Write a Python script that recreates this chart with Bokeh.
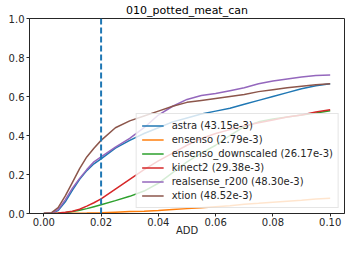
from bokeh.plotting import figure
from bokeh.models import (Span, Legend, LegendItem, FixedTicker, Range1d, Label,
                          ColumnDataSource)
from bokeh.embed import file_html
from bokeh.resources import INLINE

title = "010_potted_meat_can"
x_label = "ADD"
y_label = "ratio"
threshold = 0.02

add = [0, 0.0025, 0.005, 0.0075, 0.01, 0.0125, 0.015, 0.0175, 0.02, 0.025, 0.03,
       0.035, 0.04, 0.045, 0.05, 0.055, 0.06, 0.065, 0.07, 0.075, 0.08, 0.085,
       0.09, 0.095, 0.1]

astra = [0, 0.001, 0.015, 0.06, 0.12, 0.175, 0.22, 0.255, 0.28, 0.335, 0.375,
         0.41, 0.44, 0.47, 0.49, 0.51, 0.525, 0.54, 0.56, 0.58, 0.60, 0.62,
         0.64, 0.655, 0.665]
ensenso = [0, 0, 0, 0.0005, 0.001, 0.0015, 0.002, 0.003, 0.004, 0.007, 0.01,
           0.012, 0.015, 0.02, 0.025, 0.03, 0.035, 0.04, 0.047, 0.052, 0.058,
           0.063, 0.068, 0.074, 0.078]
ensenso_downscaled = [0, 0, 0.001, 0.004, 0.01, 0.017, 0.025, 0.035, 0.045,
                      0.066, 0.088, 0.115, 0.155, 0.21, 0.265, 0.31, 0.35, 0.40,
                      0.445, 0.47, 0.485, 0.495, 0.505, 0.515, 0.527]
kinect2 = [0, 0, 0.002, 0.006, 0.012, 0.022, 0.038, 0.055, 0.075, 0.125, 0.175,
           0.225, 0.27, 0.31, 0.35, 0.385, 0.41, 0.43, 0.45, 0.465, 0.48, 0.495,
           0.505, 0.52, 0.532]
realsense_r200 = [0, 0.001, 0.02, 0.07, 0.13, 0.18, 0.225, 0.265, 0.29, 0.34,
                  0.385, 0.44, 0.505, 0.55, 0.585, 0.605, 0.615, 0.63, 0.645,
                  0.665, 0.68, 0.69, 0.70, 0.708, 0.71]
xtion = [0, 0.002, 0.03, 0.09, 0.16, 0.23, 0.29, 0.335, 0.375, 0.44, 0.475,
         0.50, 0.525, 0.55, 0.57, 0.58, 0.59, 0.60, 0.61, 0.625, 0.635, 0.645,
         0.653, 0.66, 0.665]

series = [astra, ensenso, ensenso_downscaled, kinect2, realsense_r200, xtion]
labels = ["astra (43.15e-3)", "ensenso (2.79e-3)",
          "ensenso_downscaled (26.17e-3)", "kinect2 (29.38e-3)",
          "realsense_r200 (48.30e-3)", "xtion (48.52e-3)"]
colors = ["#1f77b4", "#ff7f0e", "#2ca02c", "#d62728", "#9467bd", "#8c564b"]

x_ticks = [0, 0.02, 0.04, 0.06, 0.08, 0.1]
x_tick_labels = ["0.00", "0.02", "0.04", "0.06", "0.08", "0.10"]
y_ticks = [0, 0.2, 0.4, 0.6, 0.8, 1.0]
y_tick_labels = ["0.0", "0.2", "0.4", "0.6", "0.8", "1.0"]

FONT = "DejaVu Sans"
INK = "#262626"

p = figure(width=346, height=238, output_backend="svg", toolbar_location=None,
           x_range=Range1d(-0.005, 0.105), y_range=Range1d(0, 1),
           min_border_left=29, min_border_right=2, min_border_top=0,
           min_border_bottom=0, title=title)
p.title.text_font = FONT
p.title.text_font_size = "11px"
p.title.text_font_style = "normal"
p.title.align = "center"
p.title.text_color = "#000000"
p.title.standoff = 3
p.title.offset = 0

p.xgrid.visible = False
p.ygrid.visible = False
p.outline_line_color = INK
p.outline_line_width = 1
p.background_fill_color = "white"
p.border_fill_color = "white"

for ax, ticks, tl in ((p.xaxis[0], x_ticks, x_tick_labels),
                      (p.yaxis[0], y_ticks, y_tick_labels)):
    ax.ticker = FixedTicker(ticks=ticks)
    ax.major_label_overrides = {t: l for t, l in zip(ticks, tl)}
    ax.minor_tick_line_color = None
    ax.major_tick_in = 0
    ax.major_tick_out = 3
    ax.major_tick_line_color = INK
    ax.axis_line_color = INK
    ax.major_label_text_font = FONT
    ax.major_label_text_font_size = "10px"
    ax.major_label_text_color = INK
    ax.major_label_standoff = 2

p.xaxis.major_label_standoff = 1
p.xaxis.axis_label = x_label
p.xaxis.axis_label_text_font = FONT
p.xaxis.axis_label_text_font_size = "10px"
p.xaxis.axis_label_text_font_style = "normal"
p.xaxis.axis_label_text_color = INK
p.xaxis.axis_label_standoff = -4

p.add_layout(Label(x=-27, y=0.5, x_units="screen", y_units="data", text=y_label,
                   angle=1.5708, text_align="center", text_baseline="top",
                   text_font=FONT, text_font_size="10px", text_color=INK))

items = []
for ys, lab, c in zip(series, labels, colors):
    src = ColumnDataSource(dict(x=add, y=ys))
    r = p.line("x", "y", source=src, line_color=c, line_width=1.5)
    items.append(LegendItem(label=lab, renderers=[r]))

p.add_layout(Span(location=threshold, dimension="height", line_color="#1f77b4",
                  line_width=2, line_dash="6 3"))

legend = Legend(items=items, location="bottom_right")
legend.label_text_font = FONT
legend.label_text_font_size = "10px"
legend.label_text_color = INK
legend.background_fill_alpha = 0.8
legend.border_line_color = "#cccccc"
legend.border_line_width = 1
legend.glyph_width = 22
legend.glyph_height = 13
legend.label_height = 13
legend.spacing = 1
legend.padding = 5
legend.margin = 5
legend.label_standoff = 8
p.add_layout(legend)

open("out.html", "w").write(file_html(p, INLINE))
